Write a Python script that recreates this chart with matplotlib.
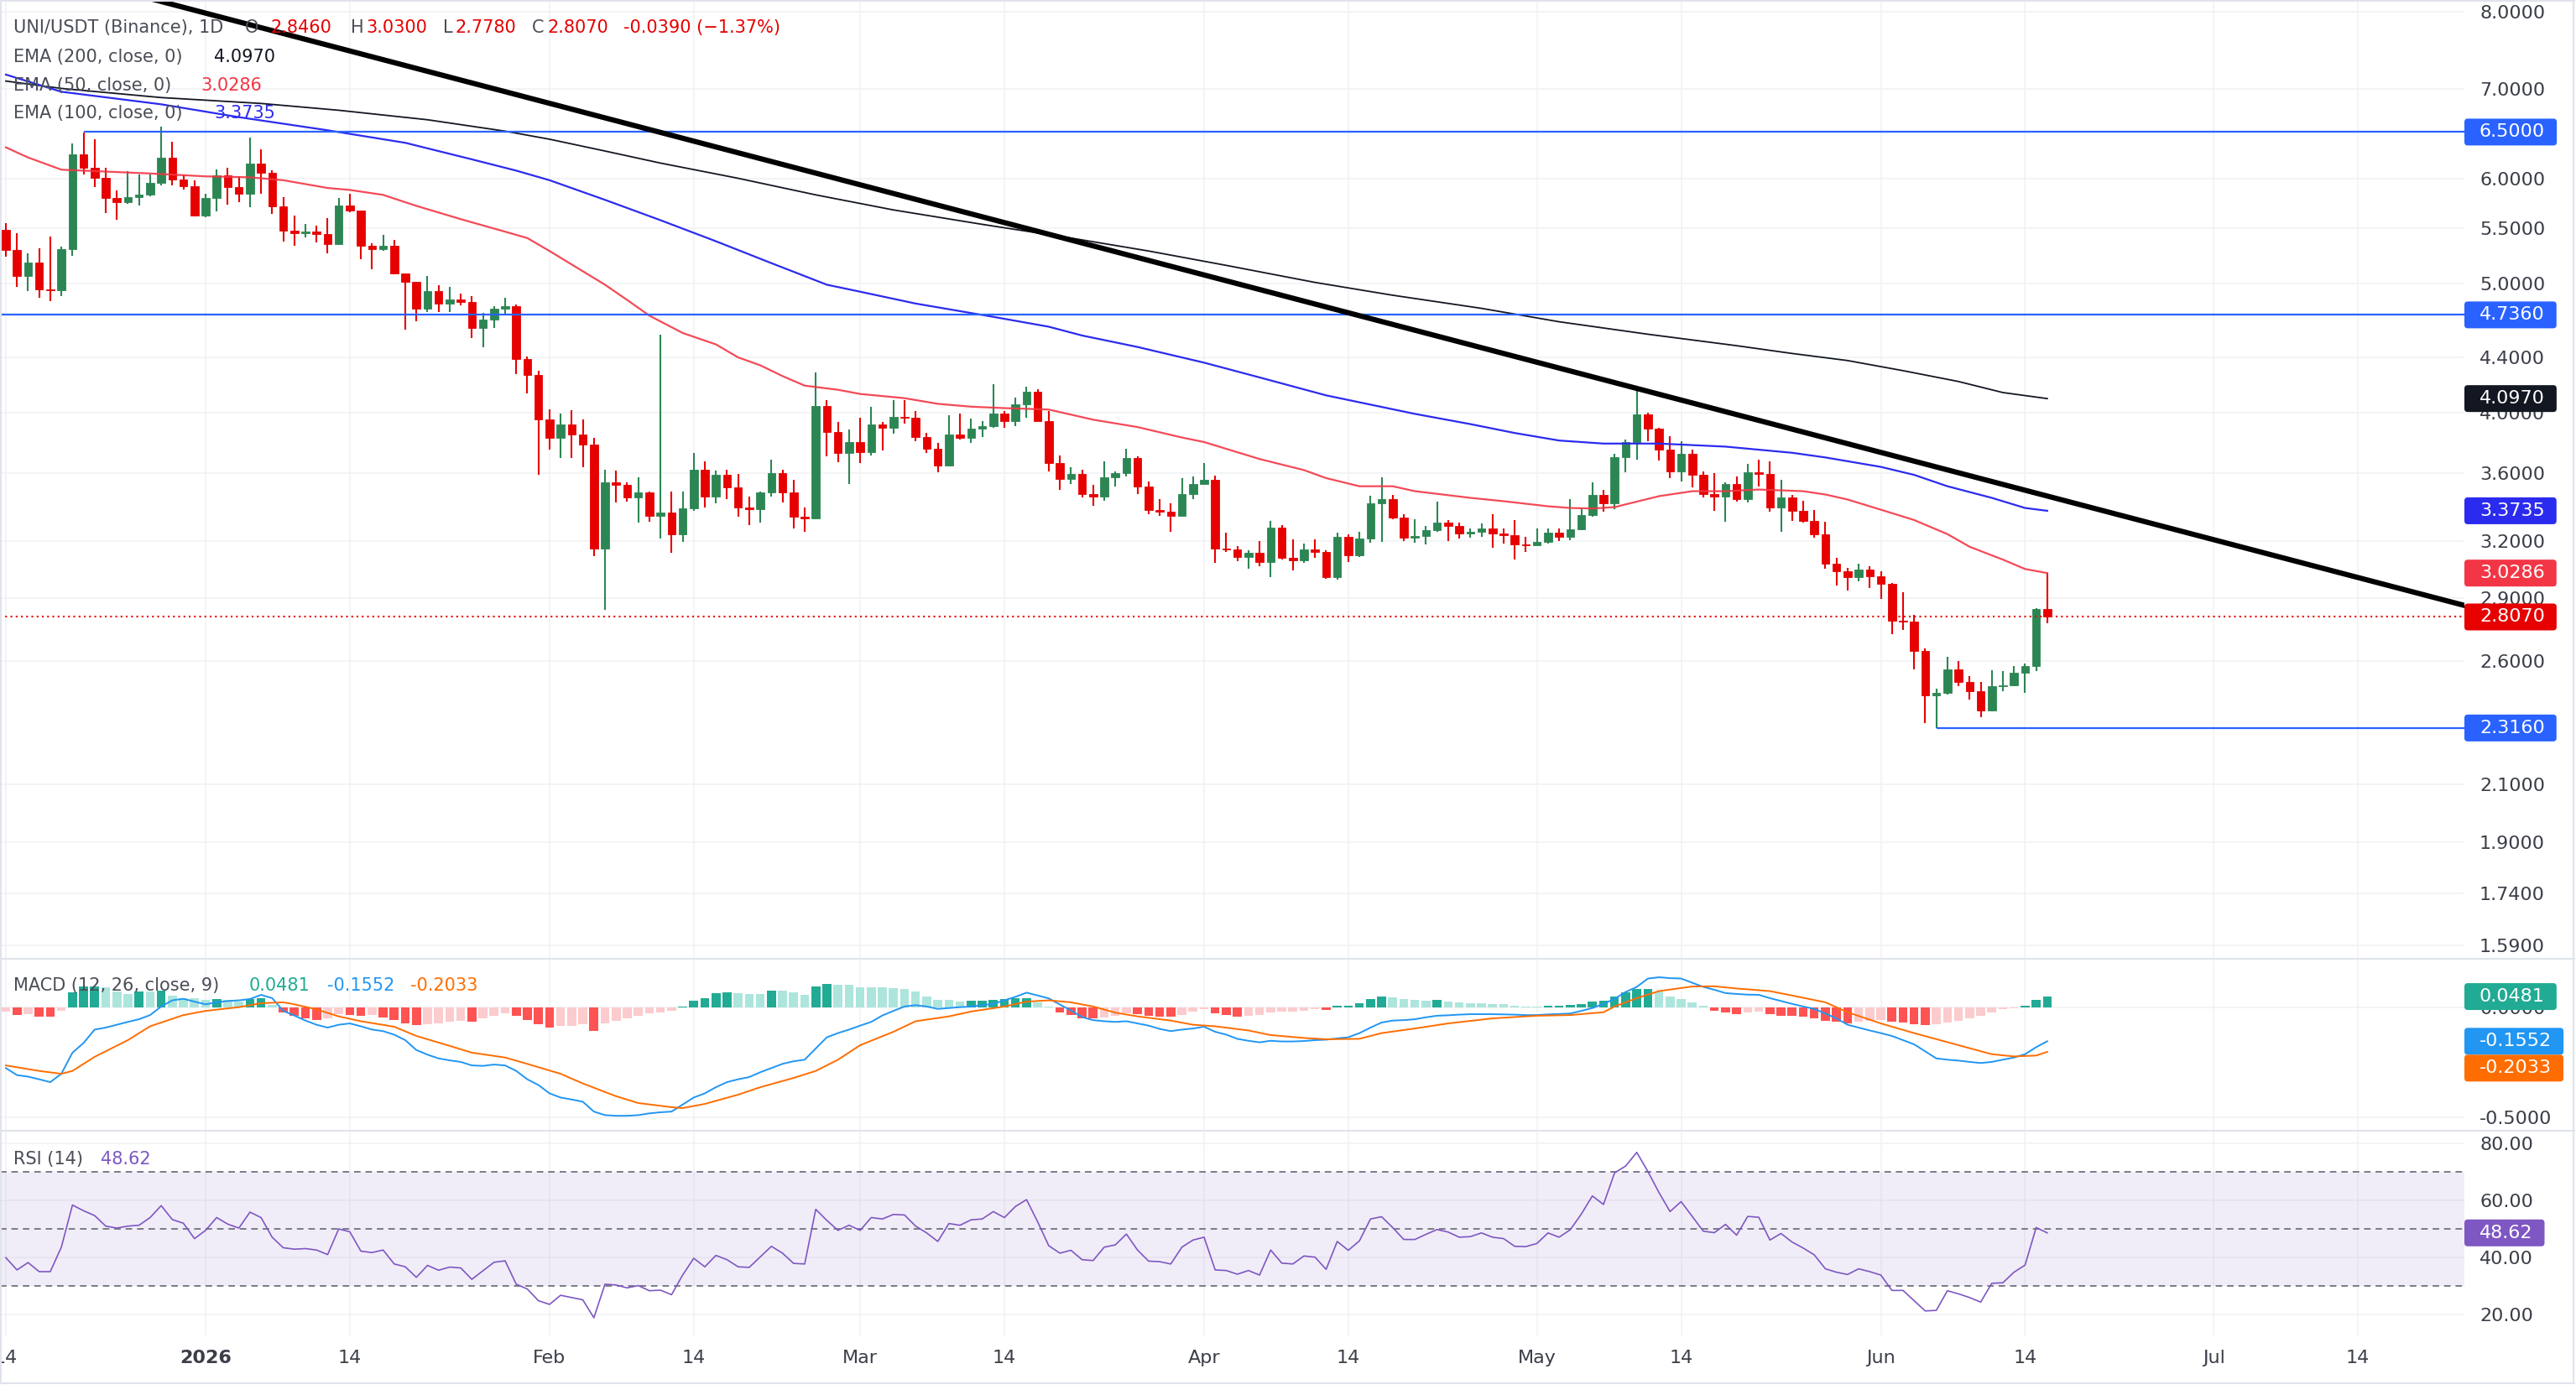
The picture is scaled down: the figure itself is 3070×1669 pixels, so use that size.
import matplotlib
matplotlib.use("Agg")
import matplotlib.pyplot as plt
from matplotlib.patches import FancyBboxPatch
from matplotlib.lines import Line2D
from matplotlib.ticker import FuncFormatter, NullLocator
from matplotlib.transforms import IdentityTransform
import numpy as np
import pandas as pd

# UNI/USDT (Binance) daily candles, 2025-12-14 .. 2026-06-16
DATES = pd.date_range("2025-12-14", "2026-06-16", freq="D")
CLOSE = [5.298, 5.065, 5.188, 4.950, 4.945, 5.310, 6.256, 6.113, 6.002, 5.798,
         5.760, 5.811, 5.831, 5.954, 6.220, 5.986, 5.915, 5.626, 5.801, 6.033,
         5.908, 5.841, 6.157, 6.056, 5.712, 5.478, 5.454, 5.475, 5.445, 5.353,
         5.725, 5.671, 5.338, 5.305, 5.340, 5.085, 5.013, 4.790, 4.932, 4.826,
         4.867, 4.840, 4.630, 4.700, 4.785, 4.810, 4.385, 4.266, 3.949, 3.825,
         3.919, 3.848, 3.786, 3.158, 3.544, 3.527, 3.455, 3.484, 3.345, 3.361,
         3.237, 3.389, 3.624, 3.460, 3.592, 3.512, 3.391, 3.381, 3.484, 3.602,
         3.481, 3.337, 3.331, 4.047, 3.865, 3.730, 3.801, 3.736, 3.919, 3.896,
         3.972, 3.964, 3.834, 3.757, 3.650, 3.849, 3.829, 3.890, 3.907, 3.994,
         3.938, 4.058, 4.148, 3.941, 3.667, 3.567, 3.595, 3.475, 3.460, 3.574,
         3.602, 3.697, 3.517, 3.376, 3.370, 3.342, 3.473, 3.535, 3.559, 3.161,
         3.155, 3.113, 3.136, 3.085, 3.276, 3.108, 3.094, 3.155, 3.140, 3.006,
         3.224, 3.122, 3.215, 3.417, 3.441, 3.336, 3.218, 3.229, 3.262, 3.306,
         3.285, 3.242, 3.252, 3.271, 3.242, 3.232, 3.181, 3.178, 3.197, 3.249,
         3.223, 3.266, 3.348, 3.468, 3.418, 3.702, 3.799, 3.987, 3.887, 3.753,
         3.614, 3.724, 3.588, 3.473, 3.460, 3.536, 3.440, 3.605, 3.598, 3.391,
         3.452, 3.375, 3.317, 3.241, 3.080, 3.040, 3.009, 3.046, 3.014, 2.974,
         2.789, 2.786, 2.645, 2.452, 2.461, 2.562, 2.507, 2.467, 2.386, 2.489,
         2.493, 2.547, 2.580, 2.846, 2.807]
HIGH = [5.554, 5.458, 5.271, 5.316, 5.428, 5.328, 6.370, 6.493, 6.415, 6.113,
        5.878, 6.079, 6.040, 6.040, 6.562, 6.387, 6.040, 5.976, 5.838, 6.096,
        6.113, 6.020, 6.440, 6.310, 6.086, 5.811, 5.626, 5.545, 5.529, 5.604,
        5.801, 5.844, 5.674, 5.358, 5.437, 5.392, 5.090, 5.015, 5.065, 4.985,
        4.972, 4.911, 4.889, 4.753, 4.810, 4.875, 4.823, 4.409, 4.302, 4.023,
        3.992, 4.017, 3.951, 3.827, 3.624, 3.619, 3.545, 3.576, 3.490, 4.575,
        3.490, 3.490, 3.730, 3.673, 3.619, 3.624, 3.597, 3.460, 3.490, 3.687,
        3.624, 3.557, 3.394, 4.288, 4.088, 3.936, 3.885, 3.964, 4.041, 3.932,
        4.084, 4.088, 4.011, 3.863, 3.792, 3.982, 3.992, 3.958, 3.941, 4.203,
        4.011, 4.106, 4.185, 4.166, 4.007, 3.712, 3.640, 3.621, 3.528, 3.674,
        3.610, 3.757, 3.708, 3.551, 3.443, 3.418, 3.571, 3.581, 3.665, 3.586,
        3.249, 3.172, 3.150, 3.203, 3.316, 3.290, 3.212, 3.189, 3.211, 3.150,
        3.248, 3.238, 3.252, 3.462, 3.575, 3.466, 3.352, 3.324, 3.286, 3.426,
        3.321, 3.306, 3.271, 3.301, 3.356, 3.271, 3.319, 3.226, 3.270, 3.271,
        3.270, 3.441, 3.387, 3.544, 3.498, 3.724, 3.815, 4.159, 3.999, 3.897,
        3.839, 3.806, 3.751, 3.609, 3.602, 3.544, 3.582, 3.657, 3.684, 3.677,
        3.560, 3.468, 3.432, 3.378, 3.309, 3.109, 3.058, 3.077, 3.063, 3.038,
        2.977, 2.930, 2.816, 2.660, 2.480, 2.621, 2.599, 2.535, 2.507, 2.558,
        2.556, 2.578, 2.590, 2.850, 3.030]
LOW = [5.239, 4.969, 4.934, 4.877, 4.848, 4.896, 5.248, 6.043, 5.908, 5.651,
       5.586, 5.744, 5.725, 5.814, 5.928, 5.925, 5.884, 5.620, 5.607, 5.667,
       5.731, 5.757, 5.709, 5.841, 5.642, 5.379, 5.340, 5.418, 5.373, 5.271,
       5.343, 5.654, 5.218, 5.125, 5.295, 5.080, 4.614, 4.685, 4.756, 4.762,
       4.762, 4.818, 4.553, 4.478, 4.630, 4.748, 4.274, 4.135, 3.593, 3.748,
       3.699, 3.694, 3.636, 3.118, 2.841, 3.425, 3.430, 3.304, 3.312, 3.217,
       3.136, 3.199, 3.373, 3.391, 3.416, 3.443, 3.340, 3.290, 3.304, 3.460,
       3.425, 3.270, 3.251, 3.323, 3.705, 3.668, 3.532, 3.662, 3.710, 3.743,
       3.853, 3.921, 3.803, 3.730, 3.604, 3.643, 3.818, 3.796, 3.834, 3.896,
       3.896, 3.909, 3.964, 3.938, 3.610, 3.497, 3.535, 3.451, 3.405, 3.431,
       3.520, 3.578, 3.475, 3.356, 3.345, 3.251, 3.347, 3.444, 3.526, 3.081,
       3.140, 3.091, 3.050, 3.067, 3.006, 3.100, 3.041, 3.081, 3.108, 2.997,
       2.993, 3.085, 3.115, 3.190, 3.197, 3.324, 3.200, 3.190, 3.181, 3.252,
       3.200, 3.213, 3.220, 3.223, 3.166, 3.186, 3.099, 3.140, 3.177, 3.187,
       3.200, 3.205, 3.262, 3.337, 3.370, 3.381, 3.608, 3.684, 3.806, 3.682,
       3.570, 3.549, 3.515, 3.452, 3.374, 3.312, 3.430, 3.422, 3.520, 3.370,
       3.255, 3.315, 3.304, 3.218, 3.052, 2.966, 2.938, 2.986, 2.953, 2.896,
       2.726, 2.746, 2.564, 2.337, 2.316, 2.455, 2.491, 2.432, 2.360, 2.384,
       2.470, 2.491, 2.461, 2.556, 2.778]
OPEN = [5.488] + CLOSE[:-1]  # each daily bar opens at the prior close

# moving averages, read at sample days (days from 2026-01-01)
EMA50_DAY = [-18, -16, -13, -9, -5, 0, 4, 7, 11, 13, 16, 19, 23, 27, 29, 31, 36, 38, 40, 43,
             46, 48, 50, 52, 54, 57, 59, 63, 66, 69, 72, 76, 80, 84, 88, 90, 95, 99, 101, 104,
             107, 109, 114, 117, 121, 123, 125, 127, 131, 134, 137, 140, 144, 146, 148, 151,
             154, 157, 159, 162, 164, 166]
EMA50 = [6.33, 6.22, 6.09, 6.07, 6.05, 6.02, 6.01, 5.98, 5.90, 5.88, 5.83, 5.72, 5.59, 5.47,
         5.41, 5.29, 4.99, 4.86, 4.73, 4.59, 4.50, 4.40, 4.34, 4.26, 4.19, 4.16, 4.13, 4.10,
         4.06, 4.04, 4.03, 4.02, 3.95, 3.90, 3.83, 3.80, 3.69, 3.62, 3.57, 3.52, 3.52, 3.49,
         3.45, 3.43, 3.40, 3.39, 3.387, 3.395, 3.46, 3.49, 3.49, 3.50, 3.49, 3.47, 3.44, 3.38,
         3.32, 3.24, 3.17, 3.10, 3.05, 3.0286]
EMA100_DAY = [-18, -13, -4, 3, 11, 18, 24, 28, 31, 36, 41, 46, 51, 56, 59, 64, 71, 76, 79, 84,
              90, 95, 101, 109, 114, 118, 122, 126, 131, 137, 143, 146, 151, 154, 157, 161,
              164, 166]
EMA100 = [7.18, 6.97, 6.82, 6.67, 6.52, 6.38, 6.20, 6.08, 5.98, 5.78, 5.58, 5.38, 5.18, 4.99,
          4.93, 4.83, 4.72, 4.64, 4.57, 4.48, 4.36, 4.25, 4.12, 3.99, 3.92, 3.86, 3.81, 3.79,
          3.79, 3.77, 3.73, 3.70, 3.64, 3.59, 3.52, 3.45, 3.39, 3.3735]
EMA200_DAY = [-18, -13, -4, 5, 12, 20, 27, 31, 36, 41, 48, 55, 62, 70, 78, 85, 92, 100, 107,
              115, 122, 130, 138, 143, 148, 153, 158, 162, 166]
EMA200 = [7.10, 7.01, 6.90, 6.83, 6.75, 6.64, 6.51, 6.42, 6.29, 6.16, 6.00, 5.83, 5.68, 5.54,
          5.41, 5.29, 5.16, 5.01, 4.90, 4.79, 4.68, 4.58, 4.49, 4.43, 4.376, 4.30, 4.22, 4.14,
          4.097]

# drawings
TREND_DATES = ["2025-12-27", "2026-07-20"]
TREND_PRICES = [8.19, 2.916]
LEVELS = [6.5, 4.736, 2.316]
LEVEL_FROM = ["2025-12-21", None, "2026-06-06"]

# MACD (12, 26, close, 9)
MACD = [-0.277, -0.309, -0.316, -0.328, -0.341, -0.303, -0.207, -0.163, -0.102, -0.093,
        -0.080, -0.067, -0.055, -0.036, 0.003, 0.031, 0.038, 0.025, 0.013, 0.022,
        0.028, 0.031, 0.037, 0.056, 0.041, -0.017, -0.038, -0.061, -0.080, -0.093,
        -0.080, -0.074, -0.087, -0.102, -0.109, -0.125, -0.150, -0.195, -0.216, -0.233,
        -0.242, -0.249, -0.265, -0.267, -0.261, -0.265, -0.290, -0.328, -0.354, -0.392,
        -0.411, -0.420, -0.430, -0.475, -0.491, -0.494, -0.494, -0.491, -0.483, -0.478,
        -0.475, -0.443, -0.411, -0.392, -0.364, -0.341, -0.328, -0.318, -0.296, -0.277,
        -0.258, -0.246, -0.239, -0.188, -0.137, -0.118, -0.102, -0.084, -0.067, -0.038,
        -0.017, 0.003, 0.009, 0.003, -0.008, -0.004, 0.000, 0.003, 0.009, 0.015,
        0.031, 0.047, 0.066, 0.053, 0.040, 0.012, -0.015, -0.045, -0.059, -0.064,
        -0.067, -0.064, -0.074, -0.084, -0.099, -0.109, -0.102, -0.097, -0.089, -0.112,
        -0.125, -0.144, -0.153, -0.160, -0.153, -0.156, -0.156, -0.154, -0.150, -0.148,
        -0.142, -0.137, -0.118, -0.093, -0.070, -0.061, -0.059, -0.055, -0.046, -0.039,
        -0.037, -0.034, -0.032, -0.032, -0.032, -0.033, -0.034, -0.036, -0.036, -0.033,
        -0.031, -0.029, -0.017, -0.004, 0.015, 0.038, 0.069, 0.092, 0.130, 0.136,
        0.132, 0.130, 0.111, 0.092, 0.079, 0.064, 0.060, 0.057, 0.056, 0.041,
        0.028, 0.015, 0.003, -0.008, -0.029, -0.051, -0.080, -0.093, -0.106, -0.118,
        -0.131, -0.150, -0.169, -0.201, -0.233, -0.239, -0.243, -0.249, -0.254, -0.249,
        -0.239, -0.229, -0.214, -0.182, -0.1552]
SIGNAL_DAY = [-18, -15, -13, -12, -10, -7, -5, -2, 0, 3, 5, 7, 8, 10, 12, 14, 17, 19, 22, 24,
              27, 29, 32, 34, 37, 39, 42, 43, 45, 48, 50, 53, 55, 57, 59, 62, 64, 67, 69, 72,
              74, 76, 78, 80, 82, 84, 87, 89, 91, 94, 96, 99, 101, 104, 106, 109, 112, 116,
              120, 123, 126, 127, 129, 131, 134, 136, 138, 141, 143, 146, 148, 151, 154, 158,
              161, 163, 165, 166]
SIGNAL = [-0.265, -0.290, -0.303, -0.290, -0.226, -0.150, -0.087, -0.036, -0.017, 0.000,
          0.018, 0.022, 0.013, -0.010, -0.042, -0.064, -0.089, -0.131, -0.176, -0.207,
          -0.229, -0.258, -0.303, -0.347, -0.405, -0.436, -0.455, -0.459, -0.440, -0.398,
          -0.364, -0.322, -0.290, -0.239, -0.173, -0.112, -0.064, -0.042, -0.020, 0.003,
          0.025, 0.031, 0.022, 0.003, -0.025, -0.042, -0.061, -0.080, -0.087, -0.106,
          -0.127, -0.140, -0.146, -0.144, -0.118, -0.097, -0.074, -0.051, -0.039, -0.036,
          -0.023, 0.003, 0.041, 0.073, 0.094, 0.095, 0.085, 0.073, 0.053, 0.022,
          -0.023, -0.074, -0.118, -0.173, -0.214, -0.224, -0.220, -0.2033]
HIST = [-0.019, -0.036, -0.032, -0.042, -0.043, -0.017, 0.066, 0.094, 0.095, 0.089,
        0.073, 0.060, 0.073, 0.071, 0.074, 0.053, 0.041, 0.039, 0.034, 0.037,
        0.034, 0.025, 0.037, 0.039, 0.009, -0.023, -0.038, -0.051, -0.059, -0.051,
        -0.033, -0.036, -0.039, -0.036, -0.046, -0.059, -0.074, -0.080, -0.078, -0.074,
        -0.067, -0.064, -0.065, -0.051, -0.039, -0.029, -0.039, -0.059, -0.076, -0.093,
        -0.087, -0.084, -0.076, -0.108, -0.074, -0.064, -0.051, -0.039, -0.029, -0.023,
        -0.018, 0.003, 0.031, 0.041, 0.062, 0.069, 0.062, 0.060, 0.058, 0.075,
        0.074, 0.066, 0.057, 0.094, 0.104, 0.102, 0.101, 0.092, 0.091, 0.089,
        0.088, 0.081, 0.070, 0.050, 0.034, 0.032, 0.027, 0.029, 0.031, 0.033,
        0.037, 0.041, 0.042, 0.022, 0.003, -0.023, -0.036, -0.051, -0.052, -0.048,
        -0.039, -0.027, -0.031, -0.039, -0.042, -0.045, -0.036, -0.019, -0.010, -0.027,
        -0.036, -0.042, -0.039, -0.037, -0.023, -0.022, -0.020, -0.017, -0.010, -0.011,
        0.006, 0.008, 0.018, 0.037, 0.047, 0.046, 0.037, 0.033, 0.031, 0.032,
        0.025, 0.022, 0.018, 0.017, 0.015, 0.014, 0.006, 0.003, 0.001, 0.005,
        0.006, 0.011, 0.015, 0.025, 0.031, 0.050, 0.066, 0.081, 0.083, 0.070,
        0.050, 0.037, 0.022, 0.005, -0.017, -0.023, -0.032, -0.024, -0.019, -0.032,
        -0.039, -0.041, -0.045, -0.051, -0.061, -0.067, -0.074, -0.067, -0.064, -0.059,
        -0.065, -0.070, -0.076, -0.080, -0.079, -0.070, -0.061, -0.051, -0.038, -0.023,
        -0.010, -0.006, 0.006, 0.034, 0.0481]

# RSI (14)
RSI = [39.9, 35.6, 38.2, 35.0, 35.0, 43.6, 58.4, 56.4, 54.7, 51.0,
       50.3, 51.0, 51.3, 54.0, 58.2, 53.3, 52.0, 46.6, 49.5, 54.0,
       51.7, 50.3, 55.9, 54.0, 47.1, 43.4, 42.9, 43.1, 42.6, 41.0,
       50.0, 49.0, 42.2, 41.7, 42.6, 37.7, 36.7, 33.0, 37.2, 35.5,
       36.6, 36.3, 32.3, 35.3, 38.3, 38.8, 30.6, 28.9, 24.8, 23.5,
       26.7, 25.9, 25.1, 18.8, 30.6, 30.3, 29.3, 30.1, 28.3, 28.5,
       26.9, 33.8, 39.7, 36.7, 40.7, 39.2, 36.7, 36.5, 40.2, 43.9,
       41.5, 37.9, 37.7, 56.9, 53.0, 49.5, 51.3, 49.5, 54.0, 53.5,
       55.1, 54.9, 51.0, 48.6, 45.6, 51.9, 51.3, 53.2, 53.5, 56.1,
       54.0, 57.9, 60.3, 52.5, 44.1, 41.5, 42.5, 39.2, 38.9, 43.6,
       44.4, 48.2, 42.6, 38.7, 38.5, 37.7, 43.6, 46.1, 47.1, 35.6,
       35.4, 34.1, 35.4, 33.8, 42.6, 38.0, 37.7, 40.5, 40.1, 35.8,
       45.6, 42.5, 45.8, 53.5, 54.3, 50.5, 46.3, 46.3, 48.1, 49.8,
       48.9, 47.1, 47.3, 48.6, 47.1, 46.6, 43.9, 43.8, 44.9, 48.6,
       47.1, 49.7, 55.2, 61.6, 58.6, 69.7, 72.1, 76.9, 70.2, 62.8,
       56.1, 59.6, 54.4, 49.2, 48.7, 51.6, 47.8, 54.4, 54.1, 46.1,
       48.4, 45.4, 43.3, 40.9, 36.0, 34.8, 34.0, 36.0, 35.0, 33.8,
       28.4, 28.4, 24.8, 21.2, 21.4, 28.3, 27.2, 25.9, 24.3, 30.9,
       31.1, 34.8, 37.3, 50.5, 48.62]

PRICE_TICKS = [1.59, 1.74, 1.9, 2.1, 2.6, 2.9, 3.2, 3.6, 4.0, 4.4, 5.0, 5.5, 6.0, 7.0, 8.0]
MACD_TICKS = [-0.5, 0.0]
RSI_TICKS = [20, 40, 60, 80]
TICK_DATES = ["2025-12-14", "2026-01-01", "2026-01-14", "2026-02-01", "2026-02-14",
              "2026-03-01", "2026-03-14", "2026-04-01", "2026-04-14", "2026-05-01",
              "2026-05-14", "2026-06-01", "2026-06-14", "2026-07-01", "2026-07-14"]
TICK_LABELS = ["14", "2026", "14", "Feb", "14", "Mar", "14", "Apr", "14", "May",
               "14", "Jun", "14", "Jul", "14"]

# ---------------------------------------------------------------------------
DAY0 = pd.Timestamp("2026-01-01")


def day(s):
    return (pd.Timestamp(s) - DAY0).days


X = np.array((DATES - DAY0).days)
TX = [day(s) for s in TICK_DATES]

plt.rcParams["font.family"] = ["DejaVu Sans"]
plt.rcParams["axes.unicode_minus"] = False

W, H = 3070, 1669
FS = 16          # scale labels
FL = 15          # legend rows
TXT = "#3b3e48"
LEG = "#4a4d57"
GRID = "#F0F1F4"
SEP = "#E0E3EB"
RED = "#E60000"
GREEN = "#2C8654"
ID = IdentityTransform()

fig = plt.figure(figsize=(W / 100, H / 100), dpi=100)
fig.patch.set_facecolor("white")
PLOT_R = 2937


def pane(top, bottom):
    a = fig.add_axes([0, 1 - bottom / H, PLOT_R / W, (bottom - top) / H])
    for s in a.spines.values():
        s.set_visible(False)
    a.set_xlim(-18.53, 203.6)
    a.yaxis.tick_right()
    a.tick_params(axis="y", length=0, pad=13, labelsize=FS, labelcolor=TXT)
    a.tick_params(axis="x", length=0, labelsize=FS, labelcolor=TXT, pad=12)
    a.set_xticks(TX)
    a.grid(True, color=GRID, lw=1.1)
    a.set_axisbelow(True)
    return a


ax = pane(0, 1143)
axm = pane(1143, 1348)
axr = pane(1348, 1592)
ax.set_xticklabels([])
axm.set_xticklabels([])
axr.set_xticklabels(TICK_LABELS)
for t in axr.get_xticklabels():
    if t.get_text() == "2026":
        t.set_fontweight("bold")

# ---- price pane ----
ax.set_yscale("log")
ax.set_ylim(1.553, 8.17)
ax.yaxis.set_minor_locator(NullLocator())
ax.set_yticks(PRICE_TICKS)
ax.yaxis.set_major_formatter(FuncFormatter(lambda v, p: f"{v:.4f}"))

o, h, l, c = map(np.array, (OPEN, HIGH, LOW, CLOSE))
col = np.where(c >= o, GREEN, RED)
ax.vlines(X, l, h, colors=col, lw=1.5, zorder=3)
ax.bar(X, np.abs(c - o), bottom=np.minimum(o, c), width=0.72, color=col,
       edgecolor=col, lw=0.6, zorder=4)

ax.plot(EMA200_DAY, EMA200, color="#131722", lw=1.3, zorder=5)
ax.plot(EMA100_DAY, EMA100, color="#2B2BEF", lw=1.6, zorder=5)
ax.plot(EMA50_DAY, EMA50, color="#F23645", lw=1.6, alpha=0.9, zorder=5)

xr = ax.get_xlim()
for lv, start in zip(LEVELS, LEVEL_FROM):
    x0 = day(start) if start else xr[0]
    ax.hlines(lv, x0, xr[1], color="#2962FF", lw=1.6, zorder=5)
ax.axline((day(TREND_DATES[0]), TREND_PRICES[0]), (day(TREND_DATES[1]), TREND_PRICES[1]),
          color="black", lw=4.5, zorder=6)
ax.axhline(CLOSE[-1], color=RED, lw=1.5, ls=(0, (1, 2)), zorder=5)
ax.set_xlim(xr)

# ---- MACD pane ----
axm.set_ylim(-0.562, 0.220)
axm.set_yticks(MACD_TICKS)
axm.yaxis.set_major_formatter(FuncFormatter(lambda v, p: f"{v:.4f}"))
hist = np.array(HIST)
prev = np.r_[hist[0], hist[:-1]]
hcol = np.where(hist >= 0, np.where(hist >= prev, "#22AB94", "#ACE5DC"),
                np.where(hist >= prev, "#FCCBCD", "#FF5252"))
axm.bar(X, hist, width=0.8, color=hcol, zorder=3)
axm.plot(X, MACD, color="#2196F3", lw=1.4, zorder=4)
axm.plot(SIGNAL_DAY, SIGNAL, color="#FF6D00", lw=1.4, zorder=4)

# ---- RSI pane ----
axr.set_ylim(12.6, 84.5)
axr.set_yticks(RSI_TICKS)
axr.yaxis.set_major_formatter(FuncFormatter(lambda v, p: f"{v:.2f}"))
axr.axhspan(30, 70, color="#7E57C2", alpha=0.1, lw=0, zorder=1)
for lv in (70, 50, 30):
    axr.axhline(lv, color="#787B86", lw=1.4, ls=(0, (4, 3)), zorder=2)
axr.plot(X, RSI, color="#7E57C2", lw=1.2, zorder=4)

# ---- frame / pane separators ----
for y in (1143, 1348, 1649):
    fig.add_artist(Line2D([0, W - 2], [H - y, H - y], transform=ID, color=SEP, lw=1.5))
fig.add_artist(Line2D([W - 3, W - 3], [H - 1649, H - 1], transform=ID, color=SEP, lw=1.5))
fig.add_artist(Line2D([1, 1], [H - 1649, H - 1], transform=ID, color=SEP, lw=1.5))
fig.add_artist(Line2D([0, W - 2], [H - 1, H - 1], transform=ID, color=SEP, lw=1.5))


# ---- legends ----
def ftext(x, y, s, color, **kw):
    return fig.text(x, H - y, s, color=color, fontsize=FL, va="center", ha="left",
                    transform=ID, zorder=8, **kw)


ftext(16, 33, "UNI/USDT (Binance), 1D", LEG)
for x, s, cc in [(292, "O", LEG), (322, "2.8460", RED), (418, "H", LEG), (436, "3.0300", RED),
                 (528, "L", LEG), (542, "2.7780", RED), (634, "C", LEG), (652, "2.8070", RED),
                 (743, "-0.0390 (\u22121.37%)", RED)]:
    ftext(x, 33, s, cc)
ftext(16, 68, "EMA (200, close, 0)", LEG)
ftext(255, 68, "4.0970", "#131722")
ftext(16, 102, "EMA (50, close, 0)", LEG)
ftext(239, 102, "3.0286", "#F23645")
ftext(16, 135, "EMA (100, close, 0)", LEG)
ftext(255, 135, "3.3735", "#2B2BEF")
ftext(16, 1175, "MACD (12, 26, close, 9)", LEG)
ftext(297, 1175, "0.0481", "#22AB94")
ftext(390, 1175, "-0.1552", "#2196F3")
ftext(489, 1175, "-0.2033", "#FF6D00")
ftext(16, 1382, "RSI (14)", LEG)
ftext(120, 1382, "48.62", "#7E57C2")

# ---- price-scale badges ----
renderer = fig.canvas.get_renderer()
BH = 32


def badges(a, items):
    last = None
    for val, txt, cc in sorted(items, key=lambda it: -a.transData.transform((0, it[0]))[1]):
        y = a.transData.transform((0, val))[1]
        if last is not None and y > last - BH:
            y = last - BH
        last = y
        t = fig.text(PLOT_R + 18, y, txt, color="white", fontsize=FS, va="center", ha="left",
                     transform=ID, zorder=11)
        w = t.get_window_extent(renderer).width + 32
        fig.add_artist(FancyBboxPatch((PLOT_R, y - BH / 2), w, BH,
                                      boxstyle="round,pad=0,rounding_size=4",
                                      transform=ID, fc=cc, ec="none", zorder=10))


badges(ax, [(6.5, "6.5000", "#2962FF"), (4.736, "4.7360", "#2962FF"),
            (EMA200[-1], "4.0970", "#131722"), (EMA100[-1], "3.3735", "#2B2BEF"),
            (EMA50[-1], "3.0286", "#F23645"), (CLOSE[-1], "2.8070", RED),
            (2.316, "2.3160", "#2962FF")])
badges(axm, [(HIST[-1], "0.0481", "#22AB94"), (MACD[-1], "-0.1552", "#2196F3"),
             (SIGNAL[-1], "-0.2033", "#FF6D00")])
badges(axr, [(RSI[-1], "48.62", "#7E57C2")])

fig.savefig("out.png", dpi=100, facecolor="white")
